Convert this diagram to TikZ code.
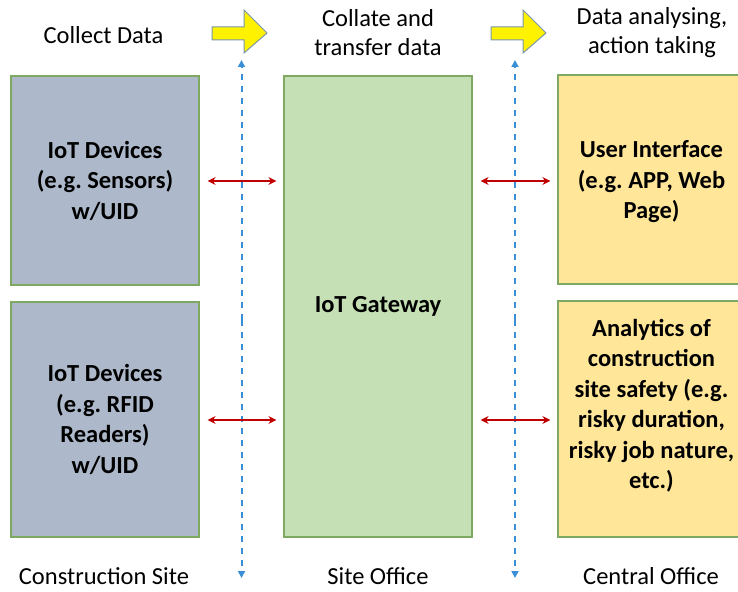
\documentclass[tikz,border=0pt]{standalone}
\usepackage{fontspec}
\setmainfont{Carlito}
\frenchspacing
\usetikzlibrary{arrows.meta,calc}
\definecolor{greybox}{HTML}{ADB9CA}
\definecolor{greenbox}{HTML}{C5E0B4}
\definecolor{yellowbox}{HTML}{FFE699}
\definecolor{boxedge}{HTML}{7FA862}
\definecolor{dashblue}{HTML}{3A8FD6}
\definecolor{arrred}{HTML}{C00000}
\definecolor{yarrowedge}{HTML}{7A95AA}
\tikzset{
  box/.style={draw=boxedge, line width=1.2pt, inner sep=0pt, align=center,
     font=\fontsize{24.5}{30.5}\selectfont\bfseries},
  boxtext/.style={align=center, inner sep=0pt, font=\fontsize{24.5}{30.5}\selectfont\bfseries},
  lbl/.style={align=center, inner sep=0pt, font=\fontsize{24.5}{29}\selectfont},
  redarrow/.style={draw=arrred, line width=1.3pt, {Stealth[length=8pt,width=8pt]}-{Stealth[length=8pt,width=8pt]}, shorten <=8pt, shorten >=7pt},
  bluedash/.style={draw=dashblue, line width=2pt, dash pattern=on 6pt off 6pt, -{Triangle[length=7pt,width=7pt]}},
  yarrow/.style={fill=yellow, draw=yarrowedge, line width=1pt, line join=miter}
}
\begin{document}
\begin{tikzpicture}[x=1pt,y=-1pt]
\useasboundingbox (0,0) rectangle (738,591);
% boxes
\node[box, fill=greybox, minimum width=188pt, minimum height=209pt] (l1) at (105,180.5) {IoT Devices\\(e.g. Sensors)\\w/UID};
\node[box, fill=greybox, minimum width=188pt, minimum height=235pt] (l2) at (105,419.5) {IoT Devices\\(e.g. RFID\\Readers)\\w/UID};
\node[box, fill=greenbox, minimum width=188pt, minimum height=461pt] (g) at (378,306.5) {IoT Gateway};
\node[box, fill=yellowbox, minimum width=187pt, minimum height=209pt] (r1) at (651.5,179.5) {};
\node[boxtext] (r1t) at (651.5,182) {User Interface\\(e.g. APP, Web\\Page)};
\node[box, fill=yellowbox, minimum width=187pt, minimum height=236pt] (r2) at (651.5,419) {};
\node[boxtext] (r2t) at (651.5,405.5) {Analytics of\\construction\\site safety (e.g.\\risky duration,\\risky job nature,\\etc.)};
% header and footer labels
\node[lbl] (h1) at (103.5,35) {Collect Data};
\node[lbl] (h2) at (378,33) {Collate and\\transfer data};
\node[lbl] (h3) at (652,33) {Data analysing,\\action taking};
\node[lbl] (f1) at (104,576) {Construction Site};
\node[lbl] (f2) at (378,576) {Site Office};
\node[lbl] (f3) at (651,576) {Central Office};
% dashed separators
\coordinate (d1t) at (241.5,60);
\coordinate (d1b) at (241.5,578);
\coordinate (d2t) at (515,60);
\coordinate (d2b) at (515,578);
\draw[bluedash] (241.5,320) -- (d1t);
\draw[bluedash] (241.5,320) -- (d1b);
\draw[bluedash] (515,320) -- (d2t);
\draw[bluedash] (515,320) -- (d2b);
% red arrows
\draw[redarrow] (l1.east |- 0,181) -- (g.west |- 0,181);
\draw[redarrow] (l2.east |- 0,420) -- (g.west |- 0,420);
\draw[redarrow] (g.east |- 0,181) -- (r1.west |- 0,181);
\draw[redarrow] (g.east |- 0,420) -- (r2.west |- 0,420);
% yellow arrows
\draw[yarrow] (212,27) -- (244,27) -- (244,10) -- (267,33) -- (244,53) -- (244,40) -- (212,40) -- cycle;
\draw[yarrow] (491,27) -- (523,27) -- (523,10) -- (546,33) -- (523,53) -- (523,40) -- (491,40) -- cycle;
\end{tikzpicture}
\end{document}
